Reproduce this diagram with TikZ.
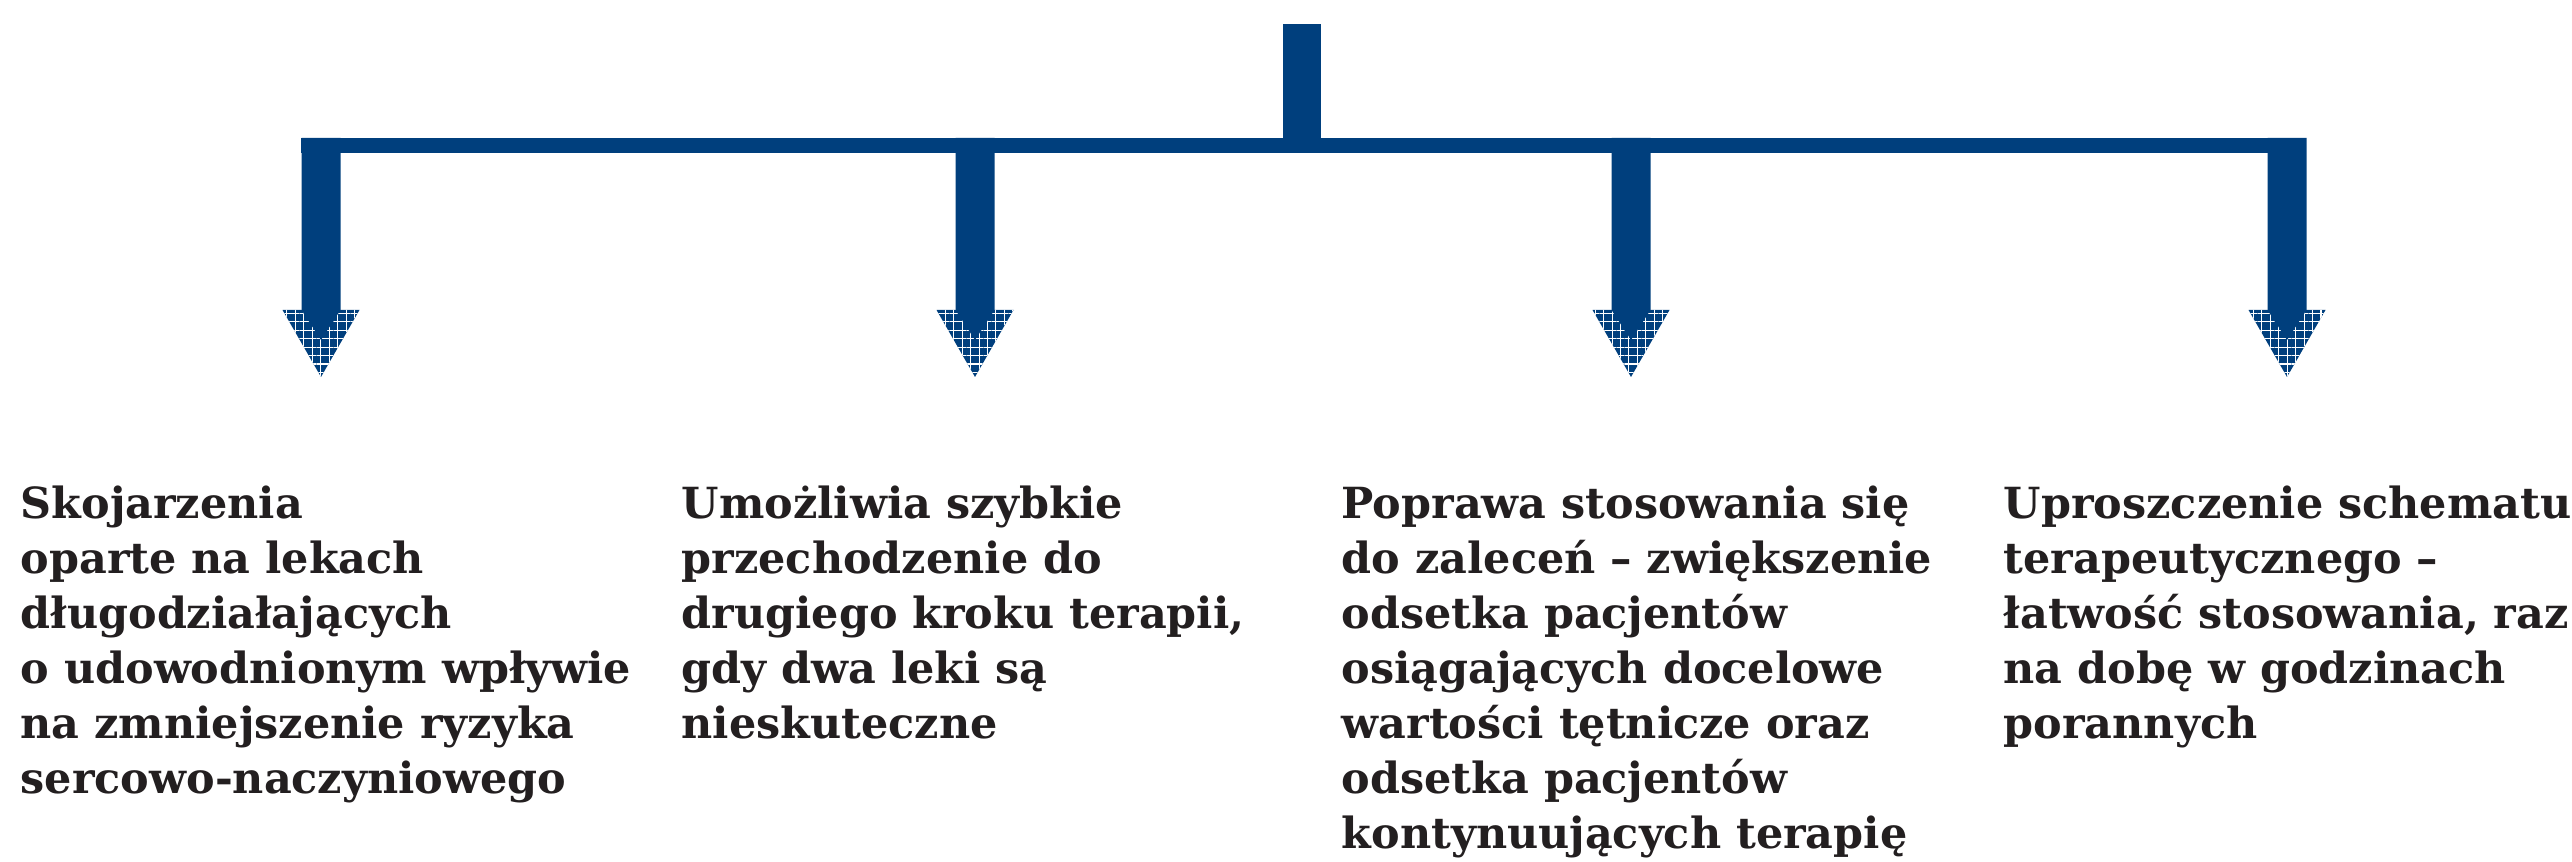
\documentclass[tikz,border=0pt]{standalone}
\usepackage{fontspec}
\setmainfont{DejaVu Serif}
\usetikzlibrary{patterns.meta}
\definecolor{navy}{RGB}{0,63,125}
\definecolor{ink}{RGB}{35,31,32}
\tikzset{
	trunk/.style={fill=navy},
	gridhead/.style={preaction={fill=navy}, pattern={Hatch[angle=0,distance=2.4pt,line width=0.3pt]}, pattern color=white},
	caption/.style={anchor=north west, inner sep=0pt, align=left, text=ink, font=\bfseries\fontsize{12.2pt}{15.65pt}\selectfont, execute at begin node=\strut}
}

\begin{document}
\begin{tikzpicture}[x=0.01cm, y=-0.01cm]
	\useasboundingbox (0,0) rectangle (2572,862);

	% --- stem and bar ---
	\coordinate (root) at (1302,24);
	\coordinate (hub) at (1302,138);
	\fill[trunk] (1283,24) rectangle (1321,153);
	\fill[trunk] (301,138) rectangle (2306,153);

	% --- four branches ---
	\foreach \cx [count=\i] in {321,975,1631,2287} {
		\coordinate (fork\i) at (\cx,138);
		\coordinate (tip\i) at (\cx,377);
		\begin{scope}[shift={(fork\i)}]
			\path[gridhead] (-38.5,172) -- (38.5,172) -- (0,239) -- cycle;
			\fill[trunk] (-19.5,0) -- (19.5,0) -- (19.5,172) -- (0,202) -- (-19.5,172) -- cycle;
		\end{scope}
	}

	% --- captions (first baseline at y=522) ---
	\node[caption] (c1) at (20,485) {Skojarzenia\\oparte na lekach\\długodziałających\\o udowodnionym wpływie\\na zmniejszenie ryzyka\\sercowo-naczyniowego};
	\node[caption] (c2) at (681,485) {Umożliwia szybkie\\przechodzenie do\\drugiego kroku terapii,\\gdy dwa leki są\\nieskuteczne};
	\node[caption] (c3) at (1341,485) {Poprawa stosowania się\\do zaleceń – zwiększenie\\odsetka pacjentów\\osiągających docelowe\\wartości tętnicze oraz\\odsetka pacjentów\\kontynuujących terapię};
	\node[caption] (c4) at (2003,485) {Uproszczenie schematu\\terapeutycznego –\\łatwość stosowania, raz\\na dobę w godzinach\\porannych};
\end{tikzpicture}
\end{document}
